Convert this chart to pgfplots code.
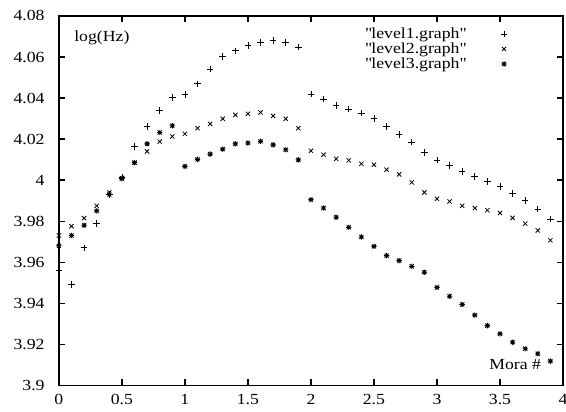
\documentclass[border=0pt]{standalone}
\usepackage{fontspec}
\setmainfont{Liberation Serif}[FakeStretch=1.15]
\usepackage{pgfplots}
\pgfplotsset{compat=1.18}

% gnuplot style point type 3: + and x on top of each other
\pgfdeclareplotmark{gstar}{%
  \pgfpathmoveto{\pgfqpoint{-\pgfplotmarksize}{0pt}}%
  \pgfpathlineto{\pgfqpoint{\pgfplotmarksize}{0pt}}%
  \pgfpathmoveto{\pgfqpoint{0pt}{-\pgfplotmarksize}}%
  \pgfpathlineto{\pgfqpoint{0pt}{\pgfplotmarksize}}%
  \pgfpathmoveto{\pgfqpoint{-0.75\pgfplotmarksize}{-0.75\pgfplotmarksize}}%
  \pgfpathlineto{\pgfqpoint{0.75\pgfplotmarksize}{0.75\pgfplotmarksize}}%
  \pgfpathmoveto{\pgfqpoint{-0.75\pgfplotmarksize}{0.75\pgfplotmarksize}}%
  \pgfpathlineto{\pgfqpoint{0.75\pgfplotmarksize}{-0.75\pgfplotmarksize}}%
  \pgfusepathqstroke}

\begin{document}
\fontsize{15.5}{18}\selectfont
\begin{tikzpicture}
\begin{axis}[
    scale only axis,
    width=505bp, height=370bp,
    xmin=0, xmax=4, ymin=3.9, ymax=4.08,
    xtick={0,0.5,...,4},
    ytick={3.9,3.92,3.94,3.96,3.98,4,4.02,4.04,4.06,4.08},
    /pgf/number format/assume math mode=true,
    tick align=inside,
    major tick length=6bp,
    axis line style={line width=1.3bp},
    every tick/.style={black, line width=1.3bp},
    yticklabel style={xshift=-9bp},
    xticklabel style={yshift=-4bp},
    clip=false,
    legend cell align=right,
    legend plot pos=right,
    legend style={draw=none, fill=none, inner sep=0pt,
        at={(rel axis cs:0.89,0.972)}, anchor=north east,
        column sep=34bp, row sep=0pt,
        nodes={inner sep=1pt}},
]
\addplot[only marks, mark=+, mark size=3.3bp, line width=0.8bp] coordinates {
(0,3.956) (0.1,3.949) (0.2,3.967) (0.3,3.979) (0.4,3.993) (0.5,4.0015)
(0.6,4.0164) (0.7,4.0261) (0.8,4.0338) (0.9,4.0403) (1.0,4.0416) (1.1,4.0469)
(1.2,4.0542) (1.3,4.0602) (1.4,4.0630) (1.5,4.0656) (1.6,4.0670) (1.7,4.0680)
(1.8,4.0672) (1.9,4.0648) (2.0,4.0420) (2.1,4.0395) (2.2,4.0365) (2.3,4.0347)
(2.4,4.0327) (2.5,4.0299) (2.6,4.0261) (2.7,4.0221) (2.8,4.0185) (2.9,4.0136)
(3.0,4.0098) (3.1,4.0072) (3.2,4.0042) (3.3,4.0018) (3.4,3.9994) (3.5,3.9969)
(3.6,3.9934) (3.7,3.9900) (3.8,3.9859) (3.9,3.9810)
};
\addlegendentry{\textquotedbl level1.graph\textquotedbl}
\addplot[only marks, mark=x, mark size=3bp, line width=0.8bp] coordinates {
(0,3.973) (0.1,3.9775) (0.2,3.9815) (0.3,3.9875) (0.4,3.994) (0.5,4.001)
(0.6,4.0085) (0.7,4.014) (0.8,4.0188) (0.9,4.0213) (1.0,4.0226) (1.1,4.0253)
(1.2,4.0274) (1.3,4.0299) (1.4,4.0318) (1.5,4.0323) (1.6,4.0330) (1.7,4.0313)
(1.8,4.0299) (1.9,4.0253) (2.0,4.0143) (2.1,4.0124) (2.2,4.0104) (2.3,4.0096)
(2.4,4.0080) (2.5,4.0075) (2.6,4.0051) (2.7,4.0028) (2.8,3.9989) (2.9,3.9940)
(3.0,3.9909) (3.1,3.9896) (3.2,3.9875) (3.3,3.9864) (3.4,3.9853) (3.5,3.9840)
(3.6,3.9816) (3.7,3.9788) (3.8,3.9755) (3.9,3.9707)
};
\addlegendentry{\textquotedbl level2.graph\textquotedbl}
\addplot[only marks, mark=gstar, mark size=2.7bp, line width=0.9bp] coordinates {
(0,3.968) (0.1,3.973) (0.2,3.978) (0.3,3.985) (0.4,3.993) (0.5,4.0007)
(0.6,4.0085) (0.7,4.0177) (0.8,4.0232) (0.9,4.0265) (1.0,4.0067) (1.1,4.0101)
(1.2,4.0127) (1.3,4.0151) (1.4,4.0177) (1.5,4.0181) (1.6,4.0189) (1.7,4.0172)
(1.8,4.0148) (1.9,4.0099) (2.0,3.9905) (2.1,3.9864) (2.2,3.9819) (2.3,3.9770)
(2.4,3.9723) (2.5,3.9677) (2.6,3.9632) (2.7,3.9608) (2.8,3.9580) (2.9,3.9551)
(3.0,3.9477) (3.1,3.9434) (3.2,3.9394) (3.3,3.9342) (3.4,3.9291) (3.5,3.9251)
(3.6,3.9210) (3.7,3.9178) (3.8,3.9154) (3.9,3.9118)
};
\addlegendentry{\textquotedbl level3.graph\textquotedbl}
\node[anchor=west] at (rel axis cs:0.02,0.94) {log(Hz)};
\node[anchor=east] at (rel axis cs:0.967,0.057) {Mora \#};
\end{axis}
\pgfresetboundingbox
\path[use as bounding box] ([shift={(-59bp,-26bp)}]current axis.south west)
    rectangle ([shift={(3bp,16bp)}]current axis.north east);
\end{tikzpicture}
\end{document}
